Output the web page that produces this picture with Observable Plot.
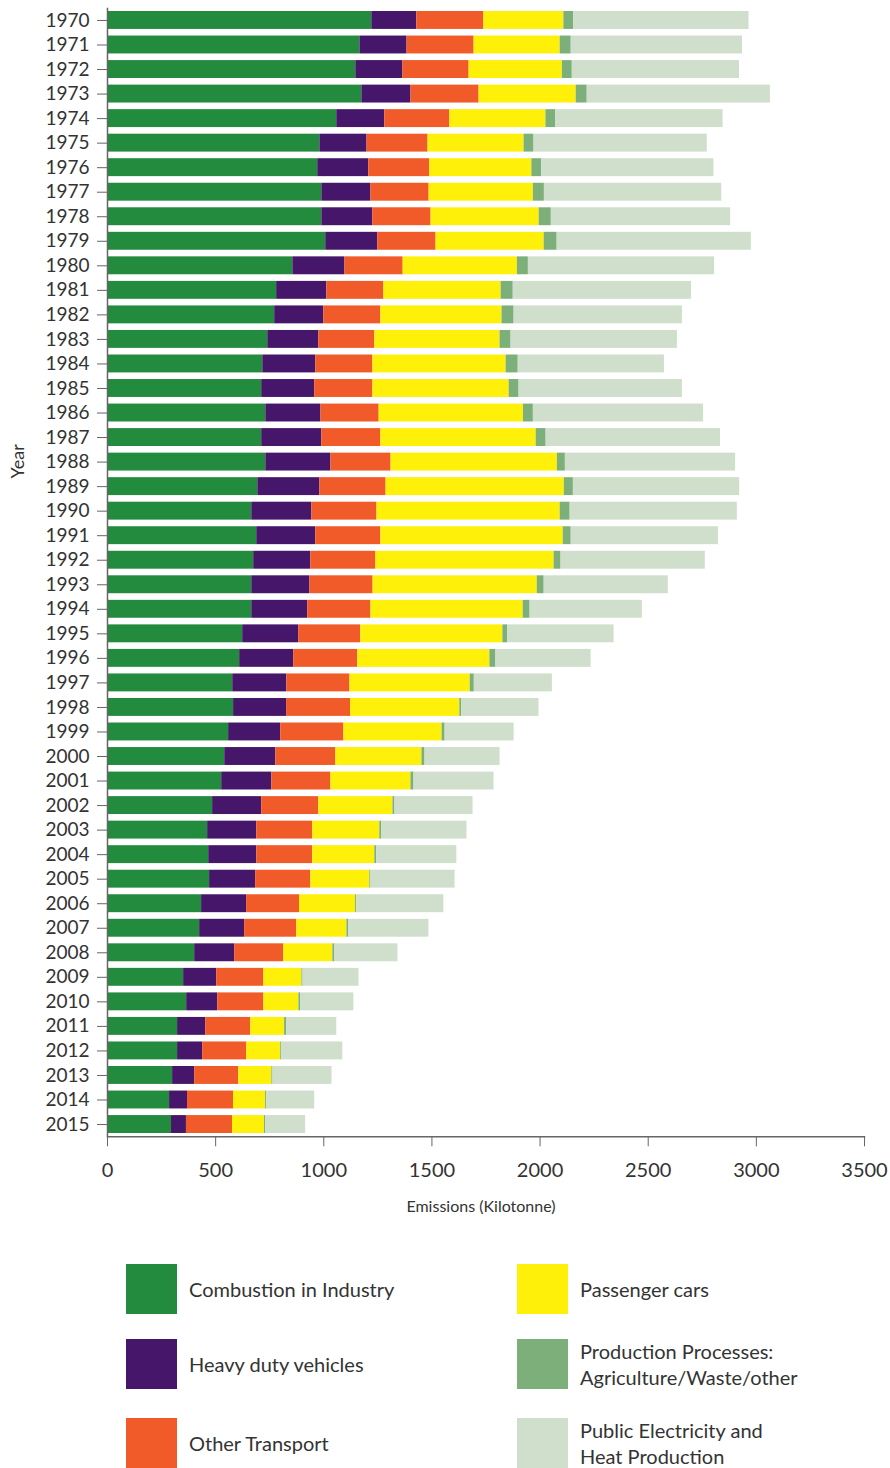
<!DOCTYPE html>
<html><head><meta charset="utf-8">
<script src="https://cdn.jsdelivr.net/npm/d3@7"></script>
<script src="https://cdn.jsdelivr.net/npm/@observablehq/plot@0.6"></script>
<style>
body{margin:0;background:#fff;font-family:Lato,"Open Sans",sans-serif;}
#wrap{position:relative;width:890px;height:1468px;overflow:hidden;}
#chart{position:absolute;left:0;top:0;}
.leg{position:absolute;display:flex;align-items:center;height:50px;}
.sw{width:51px;height:50px;flex:none;}
.lt{font-size:20px;color:#333;line-height:26px;margin-left:12px;white-space:nowrap;}
</style></head><body><div id="wrap"><div id="chart"></div></div>
<script>
const years = ["1970","1971","1972","1973","1974","1975","1976","1977","1978","1979",
"1980","1981","1982","1983","1984","1985","1986","1987","1988","1989",
"1990","1991","1992","1993","1994","1995","1996","1997","1998","1999",
"2000","2001","2002","2003","2004","2005","2006","2007","2008","2009",
"2010","2011","2012","2013","2014","2015"];
const categories = ["Combustion in Industry","Heavy duty vehicles","Other Transport","Passenger cars","Production Processes: Agriculture/Waste/other","Public Electricity and Heat Production"];
const colors = ["#238b3d","#46166b","#f15a29","#fff00a","#7daf7b","#cfdfcc"];
const combustion = [1222,1167,1148,1176,1060,982,972,991,991,1009, 857,782,773,741,718,713,732,713,732,695, 667,690,676,667,667,625,611,579,583,560, 542,528,486,463,468,472,435,426,403,352, 366,324,324,301,287,296];
const heavyDuty = [208,218,218,227,222,218,236,227,236,241, 241,232,227,236,245,245,255,278,301,287, 278,273,264,269,259,259,250,250,245,241, 236,232,227,227,222,213,208,208,185,153, 144,130,116,102,83,69];
const otherTransport = [310,310,306,315,301,282,282,269,269,269, 269,264,264,259,264,269,269,273,278,306, 301,301,301,292,292,287,296,292,296,292, 278,273,264,259,259,255,245,241,227,218, 213,208,204,204,213,213];
const passengerCars = [370,398,431,449,444,444,472,482,500,500, 528,542,560,579,616,630,667,718,769,824, 847,843,824,759,704,657,611,556,505,454, 398,370,343,310,287,273,259,232,227,176, 162,157,157,153,148,148];
const production = [46,51,46,51,46,46,46,51,56,60, 51,56,56,51,56,46,46,46,37,42, 46,37,32,32,32,23,28,19,9,14, 14,14,9,9,9,5,5,9,9,5, 9,9,5,5,5,5];
const publicElec = [810,792,773,847,773,801,796,820,829,898, 861,824,778,769,676,755,787,806,787,769, 773,681,667,574,519,491,440,361,357,319, 347,370,361,394,370,389,403,370,292,259, 245,232,282,273,222,185];
const xTicks = [0,500,1000,1500,2000,2500,3000,3500];

const seriesList = [combustion, heavyDuty, otherTransport, passengerCars, production, publicElec];
const rows = [];
years.forEach((y, i) => {
  seriesList.forEach((s, k) => rows.push({year: y, cat: categories[k], value: s[i]}));
});

const chart = Plot.plot({
  width: 890,
  height: 1230,
  marginLeft: 107,
  marginRight: 26,
  marginTop: 7.7,
  marginBottom: 93.7,
  style: {fontFamily: "Lato, 'Open Sans', sans-serif", fontSize: "19px", color: "#333", background: "#fff"},
  x: {domain: [0, 3500]},
  y: {type: "band", domain: years, paddingInner: 0.27, paddingOuter: 0.135, align: 0.5, round: false},
  color: {domain: categories, range: colors},
  marks: [
    Plot.barX(rows, Plot.stackX({x: "value", y: "year", fill: "cat", order: categories})),
    Plot.ruleX([0], {stroke: "#666", strokeWidth: 1.5}),
    Plot.frame({anchor: "bottom", stroke: "#666", strokeWidth: 1.5}),
    Plot.axisY({tickSize: 10, tickPadding: 8, stroke: "#666", label: null, fontSize: 19}),
    Plot.axisX({ticks: xTicks, tickFormat: d => String(d), tickSize: 10, tickPadding: 16, stroke: "#666", label: null, fontSize: 20}),
    Plot.text(["Emissions (Kilotonne)"], {text: d => d, frameAnchor: "bottom", dx: -5, dy: 75, fontSize: 16, fill: "#333"}),
    Plot.text(["Year"], {text: d => d, frameAnchor: "left", dx: -89, dy: -94, rotate: -90, fontSize: 18, fill: "#333"})
  ]
});
document.getElementById("chart").appendChild(chart);

const legendPos = [
  {left: 126, cy: 1289}, {left: 126, cy: 1364}, {left: 126, cy: 1443},
  {left: 517, cy: 1289}, {left: 517, cy: 1364}, {left: 517, cy: 1443}
];
const legendLabels = ["Combustion in Industry","Heavy duty vehicles","Other Transport","Passenger cars","Production Processes:<br>Agriculture/Waste/other","Public Electricity and<br>Heat Production"];
const wrap = document.getElementById("wrap");
categories.forEach((c, i) => {
  const d = document.createElement("div");
  d.className = "leg";
  d.style.left = legendPos[i].left + "px";
  d.style.top = (legendPos[i].cy - 25) + "px";
  d.innerHTML = `<div class="sw" style="background:${colors[i]}"></div><div class="lt">${legendLabels[i]}</div>`;
  wrap.appendChild(d);
});
</script></body></html>
